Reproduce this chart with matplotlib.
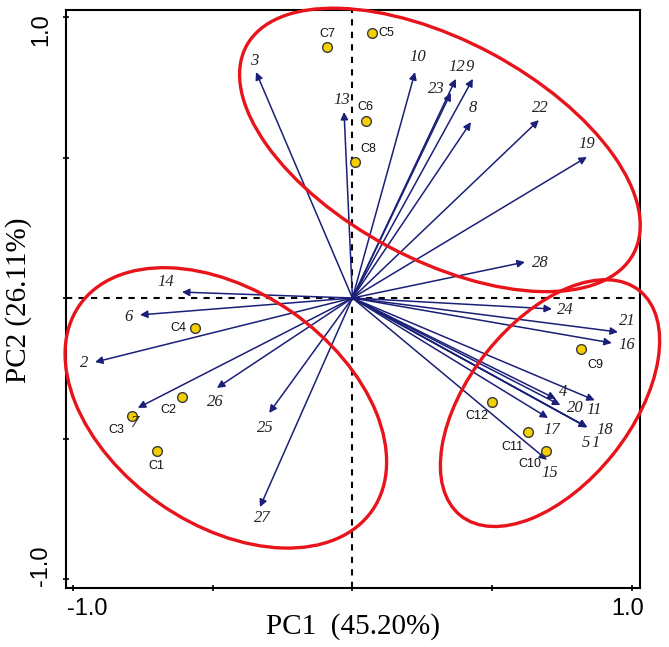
import numpy as np
import matplotlib
matplotlib.use("Agg")
import matplotlib.pyplot as plt
from matplotlib.patches import Ellipse

# variable loadings (arrow tips)
var_names = [str(i) for i in range(1, 29)]
var_x = [0.84, -0.921, -0.345, 0.728, 0.84, -0.76, -0.768, 0.424, 0.431, 0.224,
         0.867, 0.370, -0.03, -0.61, 0.696, 0.928, 0.70, 0.84, 0.839, 0.744,
         0.950, 0.667, 0.352, 0.714, -0.298, -0.485, -0.331, 0.617]
var_y = [-0.46, -0.228, 0.804, -0.359, -0.46, -0.06, -0.391, 0.626, 0.78, 0.804,
         -0.364, 0.78, 0.662, 0.021, -0.576, -0.160, -0.427, -0.46, 0.502, -0.381,
         -0.121, 0.633, 0.73, -0.039, -0.409, -0.32, -0.744, 0.128]

# sample scores
samp_names = ["C1", "C2", "C3", "C4", "C5", "C6", "C7", "C8", "C9", "C10", "C11", "C12"]
samp_x = [-0.70, -0.61, -0.789, -0.563, 0.07, 0.048, -0.091, 0.009, 0.817, 0.692, 0.628, 0.499]
samp_y = [-0.544, -0.352, -0.42, -0.107, 0.943, 0.63, 0.893, 0.484, -0.181, -0.544, -0.477, -0.37]

# label offsets in pixels
var_off = [(8, -16), (-11, -1), (-2, 11), (7, 7), (-1, -16), (-12, -2), (-4, -15), (2, 14),
           (-3, 12), (3, 15), (-1, -10), (1, 12), (-2, 12), (-16, 10), (3, -13), (15, -2),
           (4, -12), (18, -3), (0, 13), (15, -3), (9, 11), (2, 12), (-14, 4), (13, -1),
           (-4, -15), (-2, -14), (2, -11), (15, -1)]
samp_off = [(0, -15), (-14, -13), (-16, -14), (-17, 0), (14, 0), (0, 14), (0, 13), (13, 13),
            (15, -16), (-16, -13), (-16, -15), (-15, -14)]

navy = "#1a1f78"

fig = plt.figure(figsize=(6.69, 6.47), dpi=100)
ax = fig.add_axes([66 / 669, 1 - 588 / 647, (640 - 66) / 669, (588 - 10) / 647])
ax.set_xlim(-1.025, 1.029)
ax.set_ylim(-1.032, 1.025)

ax.axhline(0, color="black", lw=1.5, ls=(0, (3, 3)), zorder=1)
ax.axvline(0, color="black", lw=1.5, ls=(0, (3, 3)), zorder=1)

for name, x, y, off in zip(var_names, var_x, var_y, var_off):
    ax.annotate("", xy=(x, y), xytext=(0, 0),
                arrowprops=dict(arrowstyle="-|>", color=navy, lw=1.1,
                                mutation_scale=11, shrinkA=0, shrinkB=0),
                zorder=2)
    ax.annotate(name, xy=(x, y), xytext=off, textcoords="offset pixels",
                ha="center", va="center", fontsize=12, style="italic",
                family="Liberation Serif", color="#222222", zorder=5)

ax.plot(samp_x, samp_y, "o", ms=7, mfc="#f5cf00", mec="#3a3a3a", mew=1, zorder=4)
for name, x, y, off in zip(samp_names, samp_x, samp_y, samp_off):
    ax.annotate(name, xy=(x, y), xytext=off, textcoords="offset pixels",
                ha="center", va="center", fontsize=9, family="Liberation Sans",
                color="#111111", zorder=5)

# group ellipses
for cx, cy, w, h, ang in [(0.313, 0.527, 1.57, 0.78, -28),
                          (-0.453, -0.391, 1.277, 0.83, -34.8),
                          (0.707, -0.374, 1.025, 0.58, 51.3)]:
    ax.add_patch(Ellipse((cx, cy), w, h, angle=ang, fill=False, ec="#e8141b",
                         lw=2.4, zorder=3, clip_on=False))

ax.set_xticks([-1, -0.5, 0, 0.5, 1])
ax.set_yticks([-1, -0.5, 0, 0.5, 1])
ax.set_xticklabels([])
ax.set_yticklabels([])
ax.tick_params(direction="inout", length=4, width=1.2)
for s in ax.spines.values():
    s.set_linewidth(1.5)

fs = 17
fig.text(87 / 669, 1 - 609 / 647, "-1.0", ha="center", va="center", fontsize=fs, family="Liberation Sans")
fig.text(628 / 669, 1 - 609 / 647, "1.0", ha="center", va="center", fontsize=fs, family="Liberation Sans")
fig.text(41 / 669, 1 - 30 / 647, "1.0", ha="center", va="center", fontsize=fs, rotation=90, family="Liberation Sans")
fig.text(41 / 669, 1 - 566 / 647, "-1.0", ha="center", va="center", fontsize=fs, rotation=90, family="Liberation Sans")

fig.text(353 / 669, 1 - 627 / 647, "PC1  (45.20%)", ha="center", va="center", fontsize=21, family="Liberation Serif")
fig.text(19 / 669, 1 - 300 / 647, "PC2 (26.11%)", ha="center", va="center", fontsize=21, rotation=90, family="Liberation Serif")

fig.savefig("out.png", dpi=100)
